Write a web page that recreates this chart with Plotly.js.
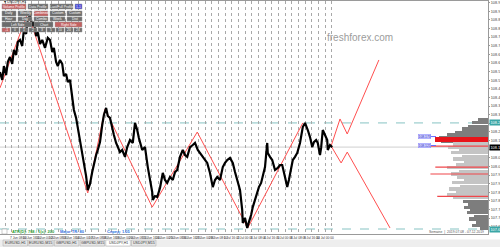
<!DOCTYPE html>
<html>
<head>
<meta charset="utf-8">
<script src="https://cdn.plot.ly/plotly-3.0.1.min.js"></script>
<style>html,body{margin:0;padding:0;background:#fff;}#chart{width:500px;height:247px;}</style>
</head>
<body>
<div id="chart"></div>
<script>
// ---------- DATA ----------
const barIndex = [0,4,7,11,14,18,22,25,29,32,36,40,43,47,50,54,58,61,65,68,72,76,81,86,90,94,97,101,104,108,112,115,119,122,126,130,133,137,140,144,148,151,155,158,162,166,169,173,176,180,184,187,191,194,198,202,205,209,212,216,220,225,229,234,239,243,247,250,256,261,266,270,274,275,279,283,288,293,297,301,306,311,315,319,324,329,333,337,342,347,351,356,360,365,369,373,378,383,387,391,396,401,405,409,414,419,423,427,432,436,437,441,445,448,452,455,459,463,466,470,473,477,481,482,486,490,495,500,504,508,513,517,520,524,527,531,535,540,544,545,549,553,554,558,562,565,569,572,576,578,580,581,585,589,590,594,598];
const closePrice = [108.547,108.501,108.582,108.530,108.605,108.634,108.594,108.675,108.646,108.721,108.733,108.698,108.791,108.768,108.849,108.878,108.814,108.837,108.756,108.779,108.710,108.733,108.687,108.745,108.733,108.663,108.687,108.605,108.582,108.617,108.594,108.524,108.536,108.489,108.501,108.385,108.327,108.281,108.223,108.165,108.095,108.025,107.944,107.863,107.898,107.967,108.014,108.066,108.095,108.141,108.240,108.298,108.339,108.292,108.281,108.211,108.182,108.136,108.112,108.083,108.095,108.055,108.112,108.153,108.136,108.252,108.211,108.165,108.095,108.112,107.996,107.921,107.851,107.805,107.828,107.822,107.875,107.962,107.921,107.904,107.939,107.921,107.967,107.979,108.055,108.095,108.066,108.055,108.112,108.124,108.136,108.095,108.078,108.055,108.037,108.020,107.962,107.880,107.921,107.939,107.921,107.996,108.020,108.037,108.049,108.020,107.967,107.921,107.863,107.747,107.672,107.701,107.643,107.677,107.718,107.764,107.805,107.846,107.880,107.904,107.950,107.996,108.136,108.078,108.055,108.037,107.979,107.991,108.008,108.008,107.939,107.880,107.921,107.979,108.037,108.055,108.078,108.136,108.194,108.228,108.252,108.223,108.211,108.170,108.112,108.141,108.153,108.136,108.066,108.107,108.170,108.211,108.182,108.153,108.095,108.124,108.112];

const zigzagBars = [0,50,158,189,274,355,446,545];
const zigzagPrices = [108.455,108.890,107.846,108.333,107.764,108.199,107.643,108.252];
const upperForecastBars = [596,612,625,682];
const upperForecastPrices = [108.118,108.275,108.188,108.617];
const lowerForecastBars = [596,614,625,702];
const lowerForecastPrices = [108.118,108.020,108.083,107.643];

const profilePrices = [108.269,108.252,108.234,108.217,108.199,108.182,108.165,108.147,108.130,108.112,108.095,108.078,108.060,108.043,108.025,108.008,107.991,107.973,107.956,107.938,107.921,107.904,107.886,107.869,107.851,107.834,107.817,107.799,107.782,107.764,107.747,107.730,107.712,107.695,107.677,107.660,107.643];
const profileVolumes = [10,16,21,27,34,42,50,48,36,41,30,38,27,36,25,33,42,30,38,32,25,37,29,40,33,42,36,26,20,25,18,22,14,19,12,16,8];
const valueAreaHigh = 108.139;
const valueAreaLow = 107.808;
const pocPrice = 108.156, pocVolume = 54;
const redLevelPrices = [108.118,107.996,107.956,107.826];
const redLevelVolumes = [59,54,59,52];

const dashedLevels = [108.252,107.637];
const bidPrice = 108.112;
const markerLabels = [108.173,108.121];

const dateLabels = ["6 Jun 2019","7 Jun 08:00","10 Jun 16:00","11 Jun 00:00","12 Jun 08:00","13 Jun 16:00","14 Jun 00:00","17 Jun 08:00","18 Jun 16:00","19 Jun 00:00","20 Jun 08:00","21 Jun 16:00","24 Jun 00:00","25 Jun 08:00","26 Jun 16:00","27 Jun 00:00","28 Jun 08:00","1 Jul 16:00","2 Jul 00:00","3 Jul 08:00","4 Jul 16:00","5 Jul 00:00","8 Jul 08:00","9 Jul 16:00","10 Jul 00:00"];
const gridBars = [];
for (let b = 9; b <= 597; b += 12) gridBars.push(b);

const tabNames = ["EURUSD,H1","EURUSD,M15","GBPUSD,H1","GBPUSD,M15","USDJPY,H1","USDJPY,M15"];
const infoTexts = ["ATR(D): 768 / 1(с): 200","Major TR: 80","Спред: 1.05"];

// ---------- helpers (layout positions in screen px) ----------
const PW = 488, PT = 1, PB = 234;
const fx = px => px / PW;
const fy = py => (PB - py) / (PB - PT);

const shapes = [];
const ann = [];

dashedLevels.forEach(v => shapes.push({type:'line', xref:'paper', x0:0, x1:1, yref:'y', y0:v, y1:v, line:{color:'#86c3c3', width:1, dash:'dash'}, layer:'below'}));
shapes.push({type:'line', xref:'paper', x0:0, x1:1, yref:'y', y0:bidPrice, y1:bidPrice, line:{color:'#cfcfcf', width:1}, layer:'below'});

const RED='#c46262', GREY='#6c6c6c', BLUE='#4a4ad8';
const buttons = [
 ["Volume Profile",2,26,4,9,RED],["Data Profile",28,48,4,9,GREY],["Last/Full Profile",50,73,4,9,GREY],["1-1",75,82,4,9,BLUE],
 ["Daily",2,16,11,16,GREY],["Weekly",18,32,11,16,GREY],["Combined",34,48,11,16,RED],["Custom",50,65,11,16,GREY],["Custom",67,82,11,16,GREY],
 ["Hour",2,16,17,21,GREY],["Day",18,32,17,21,GREY],["Combo",34,48,17,21,GREY],["Week",50,65,17,21,GREY],["Dist",67,82,17,21,GREY],
 ["Left Side",2,32,22,27,GREY],["Chart",34,53,22,27,GREY],["Right Side",55,82,22,27,RED]
];
const smallLabels = ["-1","0","1","2","3","5","10","20","24"];
smallLabels.forEach((s,i)=>{ const x0 = 2 + i*9; buttons.push([s, x0, x0+8, 28, 32, i===0?RED:GREY]); });
buttons.forEach(b=>{
  shapes.push({type:'rect', xref:'paper', yref:'paper', x0:fx(b[1]), x1:fx(b[2]), y0:fy(b[4]), y1:fy(b[3]), fillcolor:b[5], line:{color:'#9a9a9a', width:0.5}});
  ann.push({xref:'paper', yref:'paper', x:fx((b[1]+b[2])/2), y:fy((b[3]+b[4])/2), text:b[0], showarrow:false, font:{size:3.4, color:'#fff'}, xanchor:'center', yanchor:'middle'});
});

shapes.push({type:'rect', xref:'paper', yref:'paper', x0:0, x1:500/PW, y0:fy(247), y1:fy(239.5), fillcolor:'#eeeeee', line:{width:0}});
tabNames.forEach((t,i)=>{
  const x0 = 3 + i*25.7, x1 = x0 + 24.5, sel = t === "USDJPY,H1";
  shapes.push({type:'rect', xref:'paper', yref:'paper', x0:fx(x0), x1:fx(x1), y0:fy(246), y1:fy(240), fillcolor: sel?'#ffffff':'#e6e6e6', line:{color:'#a8a8a8', width:0.5}});
  ann.push({xref:'paper', yref:'paper', x:fx((x0+x1)/2), y:fy(243), text:t, showarrow:false, font:{size:3.6, color:'#333'}, xanchor:'center', yanchor:'middle'});
});

ann.push({xref:'paper', yref:'paper', x:fx(2), y:fy(2.2), text:'▾ USDJPY,H1', showarrow:false, font:{size:3.6, color:'#222'}, xanchor:'left', yanchor:'middle'});
ann.push({xref:'paper', yref:'paper', x:fx(360), y:fy(37), text:'freshforex.com', showarrow:false, font:{size:10, color:'#9c9c9c', family:'Liberation Sans, Arial'}, xanchor:'center', yanchor:'middle'});
const infoPos = [[10,'#2e9e3a'],[58,'#2f6fe0'],[105,'#2f6fe0']];
infoTexts.forEach((t,i)=> ann.push({xref:'paper', yref:'paper', x:fx(infoPos[i][0]), y:fy(231.5), text:'<b>'+t+'</b>', showarrow:false, font:{size:4, color:infoPos[i][1]}, xanchor:'left', yanchor:'middle'}));
shapes.push({type:'rect', xref:'paper', yref:'paper', x0:fx(2), x1:fx(7), y0:fy(234), y1:fy(229), fillcolor:'#fff', line:{color:'#999', width:0.5}});
ann.push({xref:'paper', yref:'paper', x:fx(486), y:fy(231.5), text:'Semaine  |  2019.07.08 - 07.12.2019', showarrow:false, font:{size:3.4, color:'#555'}, xanchor:'right', yanchor:'middle'});
dashedLevels.forEach(v => ann.push({xref:'paper', yref:'y', x:1.002, y:v, text:v.toFixed(3), showarrow:false, font:{size:3.8, color:'#fff'}, bgcolor:'#3ba6a6', xanchor:'left', yanchor:'middle', borderpad:0.5}));
ann.push({xref:'paper', yref:'y', x:1.002, y:bidPrice, text:bidPrice.toFixed(3), showarrow:false, font:{size:3.8, color:'#fff'}, bgcolor:'#000', xanchor:'left', yanchor:'middle', borderpad:0.5});
markerLabels.forEach(v => {
  ann.push({xref:'paper', yref:'y', x:fx(424), y:v, text:v.toFixed(3), showarrow:false, font:{size:3.4, color:'#3535c0'}, bgcolor:'#cfcfff', bordercolor:'#8a8aff', borderwidth:0.5, xanchor:'center', yanchor:'middle', borderpad:0});
  shapes.push({type:'line', xref:'paper', yref:'y', x0:fx(431), x1:fx(436), y0:v, y1:v, line:{color:'#6a6aff', width:1}});
});

// ---------- TRACES ----------
const profileColors = profilePrices.map(p => (p > valueAreaHigh || p < valueAreaLow) ? '#7d7d7d' : '#c4c4c4');
const redX = [], redY = [];
redLevelPrices.forEach((p,i)=>{ redX.push(0, redLevelVolumes[i], null); redY.push(p, p, null); });

const traces = [
  {type:'bar', orientation:'h', x:profileVolumes, y:profilePrices, xaxis:'x2', yaxis:'y', width:0.0178, marker:{color:profileColors, line:{width:0}}, hoverinfo:'skip'},
  {type:'bar', orientation:'h', x:[pocVolume], y:[pocPrice], xaxis:'x2', yaxis:'y', width:0.026, marker:{color:'#e8141a', line:{width:0}}, hoverinfo:'skip'},
  {type:'scatter', mode:'lines', x:redX, y:redY, xaxis:'x2', yaxis:'y', line:{color:'#f0474b', width:1.2}, hoverinfo:'skip'},
  {type:'scatter', mode:'lines', x:zigzagBars, y:zigzagPrices, xaxis:'x', yaxis:'y', line:{color:'#ff4f4f', width:1}, hoverinfo:'skip'},
  {type:'scatter', mode:'lines', x:upperForecastBars, y:upperForecastPrices, xaxis:'x', yaxis:'y', line:{color:'#ff4f4f', width:1}, hoverinfo:'skip'},
  {type:'scatter', mode:'lines', x:lowerForecastBars, y:lowerForecastPrices, xaxis:'x', yaxis:'y', line:{color:'#ff4f4f', width:1}, hoverinfo:'skip'},
  {type:'scatter', mode:'lines', x:barIndex, y:closePrice, xaxis:'x', yaxis:'y', line:{color:'#000', width:2.2}, hoverinfo:'skip'}
];

const tickText = gridBars.map((b,i)=> i%2===0 ? (dateLabels[i/2] || '') : '');

const layout = {
  width:500, height:247,
  margin:{l:0, r:12, t:1, b:13},
  paper_bgcolor:'#fff', plot_bgcolor:'#fff',
  showlegend:false, bargap:0,
  font:{family:'Liberation Sans, Arial, sans-serif', size:5, color:'#333'},
  xaxis:{range:[0,878.4], tickmode:'array', tickvals:gridBars, ticktext:tickText,
         showgrid:true, gridcolor:'#a8a8a8', gridwidth:1, griddash:'dot', zeroline:false, ticks:'',
         tickfont:{size:3.2, color:'#333'}, tickangle:0,
         showline:true, mirror:true, linecolor:'#9a9a9a', linewidth:1},
  xaxis2:{overlaying:'x', range:[500,0], visible:false},
  yaxis:{side:'right', range:[107.608,108.959], tick0:108.95, dtick:0.05, tickformat:'.3f', showgrid:false, zeroline:false,
         showline:true, linecolor:'#9a9a9a', ticks:'outside', ticklen:1, tickcolor:'#9a9a9a', tickfont:{size:3.8, color:'#444'}},
  shapes:shapes, annotations:ann
};

Plotly.newPlot('chart', traces, layout, {staticPlot:true, displayModeBar:false});
</script>
</body>
</html>
